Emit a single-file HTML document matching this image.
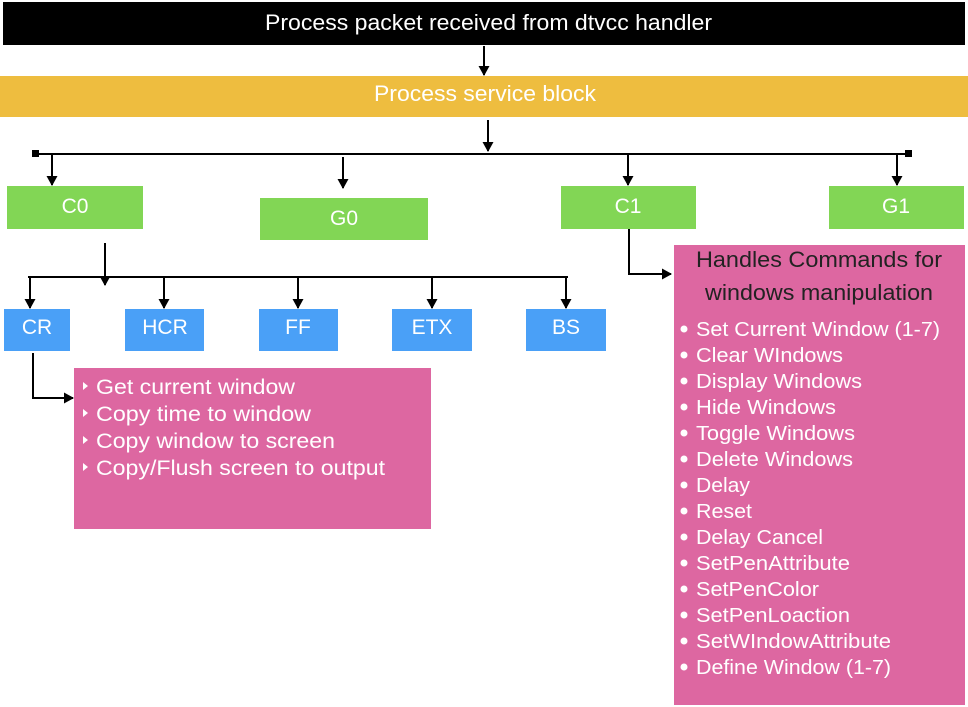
<!DOCTYPE html>
<html><head><meta charset="utf-8"><style>
html,body{margin:0;padding:0;background:#fff;}
svg{display:block;font-family:"Liberation Sans",sans-serif;}
</style></head><body>
<svg width="968" height="707" viewBox="0 0 968 707" xmlns="http://www.w3.org/2000/svg">
<defs><marker id="a" markerWidth="12" markerHeight="12" refX="9" refY="5.5" orient="auto" markerUnits="userSpaceOnUse"><path d="M0,0 L10,5.5 L0,11 z" fill="#000"/></marker></defs>
<rect x="3" y="2" width="962" height="43" fill="#000"/>
<text x="265" y="30" fill="#fff" font-size="22" textLength="447" lengthAdjust="spacingAndGlyphs">Process packet received from dtvcc handler</text>
<rect x="0" y="76" width="968" height="41" fill="#eebd3f"/>
<text x="374" y="101" fill="#fff" font-size="22" textLength="222" lengthAdjust="spacingAndGlyphs">Process service block</text>
<g stroke="#000" stroke-width="2" fill="none">
<line x1="484" y1="46" x2="484" y2="75" marker-end="url(#a)"/>
<line x1="488" y1="120" x2="488" y2="151" marker-end="url(#a)"/>
<line x1="35" y1="154" x2="908" y2="154"/>
<line x1="52" y1="155" x2="52" y2="185" marker-end="url(#a)"/>
<line x1="343" y1="157" x2="343" y2="188" marker-end="url(#a)"/>
<line x1="628" y1="155" x2="628" y2="185" marker-end="url(#a)"/>
<line x1="897" y1="155" x2="897" y2="185" marker-end="url(#a)"/>
<line x1="105" y1="243" x2="105" y2="285" marker-end="url(#a)"/>
<line x1="28" y1="277" x2="568" y2="277"/>
<line x1="30" y1="278" x2="30" y2="308" marker-end="url(#a)"/>
<line x1="164" y1="278" x2="164" y2="308" marker-end="url(#a)"/>
<line x1="298" y1="278" x2="298" y2="308" marker-end="url(#a)"/>
<line x1="432" y1="278" x2="432" y2="308" marker-end="url(#a)"/>
<line x1="566" y1="278" x2="566" y2="308" marker-end="url(#a)"/>
<polyline points="33,353 33,398 73,398" marker-end="url(#a)"/>
<polyline points="629,229 629,274 671,274" marker-end="url(#a)"/>
</g>
<rect x="32" y="150" width="7" height="7" fill="#000"/>
<rect x="905" y="150" width="7" height="7" fill="#000"/>
<g fill="#82d655">
<rect x="7" y="186" width="136" height="43"/>
<rect x="260" y="198" width="168" height="42"/>
<rect x="561" y="186" width="135" height="43"/>
<rect x="829" y="186" width="135" height="43"/>
</g>
<g fill="#fff" font-size="21" text-anchor="middle">
<text x="75" y="213">C0</text>
<text x="344" y="225">G0</text>
<text x="628" y="213">C1</text>
<text x="896" y="213">G1</text>
</g>
<g fill="#4aa0f7">
<rect x="4" y="309" width="66" height="42"/>
<rect x="125" y="309" width="79" height="42"/>
<rect x="259" y="309" width="79" height="42"/>
<rect x="392" y="309" width="80" height="42"/>
<rect x="526" y="309" width="80" height="42"/>
</g>
<g fill="#fff" font-size="21" text-anchor="middle">
<text x="37" y="334">CR</text>
<text x="165" y="334">HCR</text>
<text x="298" y="334">FF</text>
<text x="432" y="334">ETX</text>
<text x="566" y="334">BS</text>
</g>
<rect x="74" y="368" width="357" height="161" fill="#dd67a1"/>
<g fill="#fff" font-size="21" lengthAdjust="spacingAndGlyphs">
<path d="M83,382 l5,4 l-5,4z"/><text x="96" y="394" textLength="199" lengthAdjust="spacingAndGlyphs">Get current window</text>
<path d="M83,409 l5,4 l-5,4z"/><text x="96" y="421" textLength="215" lengthAdjust="spacingAndGlyphs">Copy time to window</text>
<path d="M83,436 l5,4 l-5,4z"/><text x="96" y="448" textLength="239" lengthAdjust="spacingAndGlyphs">Copy window to screen</text>
<path d="M83,463 l5,4 l-5,4z"/><text x="96" y="475" textLength="289" lengthAdjust="spacingAndGlyphs">Copy/Flush screen to output</text>
</g>
<rect x="674" y="245" width="291" height="460" fill="#dd67a1"/>
<g fill="#222" font-size="22">
<text x="696" y="267" textLength="246" lengthAdjust="spacingAndGlyphs">Handles Commands for</text>
<text x="705" y="300" textLength="228" lengthAdjust="spacingAndGlyphs">windows manipulation</text>
</g>
<g fill="#fff">
<circle cx="684" cy="329" r="3.5"/><circle cx="684" cy="355" r="3.5"/><circle cx="684" cy="381" r="3.5"/><circle cx="684" cy="407" r="3.5"/><circle cx="684" cy="433" r="3.5"/><circle cx="684" cy="459" r="3.5"/><circle cx="684" cy="485" r="3.5"/><circle cx="684" cy="511" r="3.5"/><circle cx="684" cy="537" r="3.5"/><circle cx="684" cy="563" r="3.5"/><circle cx="684" cy="589" r="3.5"/><circle cx="684" cy="615" r="3.5"/><circle cx="684" cy="641" r="3.5"/><circle cx="684" cy="667" r="3.5"/>
</g>
<g fill="#fff" font-size="20.5">
<text x="696" y="336" textLength="244" lengthAdjust="spacingAndGlyphs">Set Current Window (1-7)</text>
<text x="696" y="362" textLength="147" lengthAdjust="spacingAndGlyphs">Clear WIndows</text>
<text x="696" y="388" textLength="166" lengthAdjust="spacingAndGlyphs">Display Windows</text>
<text x="696" y="414" textLength="140" lengthAdjust="spacingAndGlyphs">Hide Windows</text>
<text x="696" y="440" textLength="159" lengthAdjust="spacingAndGlyphs">Toggle Windows</text>
<text x="696" y="466" textLength="157" lengthAdjust="spacingAndGlyphs">Delete Windows</text>
<text x="696" y="492" textLength="54" lengthAdjust="spacingAndGlyphs">Delay</text>
<text x="696" y="518" textLength="56" lengthAdjust="spacingAndGlyphs">Reset</text>
<text x="696" y="544" textLength="127" lengthAdjust="spacingAndGlyphs">Delay Cancel</text>
<text x="696" y="570" textLength="154" lengthAdjust="spacingAndGlyphs">SetPenAttribute</text>
<text x="696" y="596" textLength="123" lengthAdjust="spacingAndGlyphs">SetPenColor</text>
<text x="696" y="622" textLength="154" lengthAdjust="spacingAndGlyphs">SetPenLoaction</text>
<text x="696" y="648" textLength="195" lengthAdjust="spacingAndGlyphs">SetWIndowAttribute</text>
<text x="696" y="674" textLength="195" lengthAdjust="spacingAndGlyphs">Define Window (1-7)</text>
</g>
</svg>
</body></html>
